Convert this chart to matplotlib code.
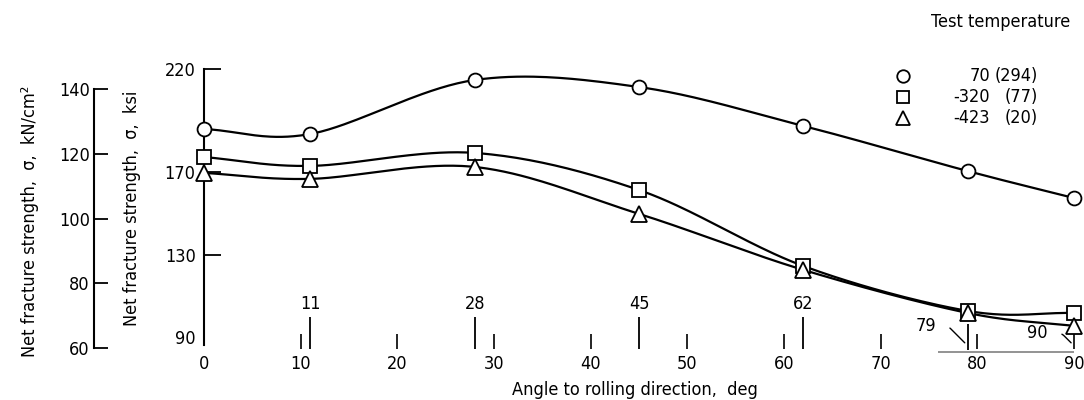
import numpy as np
import matplotlib
matplotlib.use("Agg")
import matplotlib.pyplot as plt

plt.rcParams['font.family'] = ['DejaVu Sans']
plt.rcParams['font.stretch'] = 'condensed'

# measured points, angle to rolling direction (deg) vs net fracture strength (ksi)
angles = [0, 11, 28, 45, 62, 79, 90]
ksi_70F = [191.0, 188.6, 214.8, 211.4, 192.5, 170.6, 157.5]
ksi_m320F = [177.4, 173.1, 179.4, 161.4, 124.5, 102.7, 101.7]
ksi_m423F = [169.7, 166.8, 172.6, 149.8, 122.6, 101.7, 95.4]

series_labels = [("70", "(294)"), ("-320", "(77)"), ("-423", "(20)")]
markers = ['o', 's', '^']

ksi_ticks = [220, 170, 130, 90]
kn_ticks = [140, 120, 100, 80, 60]
x_ticks = [0, 10, 20, 30, 40, 50, 60, 70, 80, 90]


def smooth_curve(x, y, n=40):
    # Catmull-Rom through the measured points
    x = np.asarray(x, float)
    y = np.asarray(y, float)
    px = np.concatenate([[2 * x[0] - x[1]], x, [2 * x[-1] - x[-2]]])
    py = np.concatenate([[2 * y[0] - y[1]], y, [2 * y[-1] - y[-2]]])
    xs, ys = [], []
    t = np.linspace(0, 1, n)
    for i in range(1, len(px) - 2):
        for p, out in ((px, xs), (py, ys)):
            p0, p1, p2, p3 = p[i - 1], p[i], p[i + 1], p[i + 2]
            out.extend(0.5 * ((2 * p1) + (-p0 + p2) * t
                              + (2 * p0 - 5 * p1 + 4 * p2 - p3) * t ** 2
                              + (-p0 + 3 * p1 - 3 * p2 + p3) * t ** 3))
    return np.array(xs), np.array(ys)


W, H = 1084, 400
fig = plt.figure(figsize=(W / 100, H / 100), dpi=100)
fs = 13

# main axes (ksi)
y_bot = 84.2
ax = fig.add_axes([204 / W, 1 - 349 / H, 870 / W, (349 - 69.3) / H])
ax.set_xlim(0, 90)
ax.set_ylim(y_bot, 220)
for s in ['top', 'right', 'bottom']:
    ax.spines[s].set_visible(False)
ax.spines['left'].set_bounds(86, 220)
ax.spines['left'].set_linewidth(1.5)
ax.set_yticks(ksi_ticks)
ax.set_yticklabels([str(v) for v in ksi_ticks])
ax.tick_params(axis='y', direction='in', length=12, width=1.3, pad=6, labelsize=fs)
ax.yaxis.get_major_ticks()[-1].tick1line.set_visible(False)
ax.set_xticks(x_ticks)
ax.set_xticklabels([str(v) for v in x_ticks])
ax.tick_params(axis='x', direction='in', length=11, width=1.2, pad=4, labelsize=fs)
ax.xaxis.get_major_ticks()[0].tick1line.set_visible(False)
ax.set_xlabel("Angle to rolling direction,  deg", fontsize=fs)
ax.xaxis.set_label_coords(0.495, -0.115)

for vals, m in zip([ksi_70F, ksi_m320F, ksi_m423F], markers):
    cx, cy = smooth_curve(angles, vals)
    ax.plot(cx, cy, color='black', lw=1.6, clip_on=False)
    ax.plot(angles, vals, m, ms=10 if m != '^' else 11, mfc='white', mec='black',
            mew=1.3, clip_on=False, zorder=5)

# test angle ticks
for a in angles[1:5]:
    ax.vlines(a, y_bot, y_bot + 15.5, color='black', lw=1.3)
    ax.text(a, y_bot + 22, str(a), ha='center', va='center', fontsize=fs)
ax.vlines(79, y_bot - 0.5, y_bot + 12, color='black', lw=1.3, clip_on=False)
ax.annotate("79", xy=(78.7, y_bot + 3), xytext=(-28, 12), textcoords='offset points',
            ha='center', va='center', fontsize=fs,
            arrowprops=dict(arrowstyle='-', lw=1, color='black', shrinkA=8, shrinkB=0,
                            connectionstyle='angle,angleA=0,angleB=-45,rad=4'))
ax.annotate("90", xy=(89.7, y_bot + 3), xytext=(-24, 7), textcoords='offset points',
            ha='center', va='center', fontsize=fs,
            arrowprops=dict(arrowstyle='-', lw=1, color='black', shrinkA=8, shrinkB=0,
                            connectionstyle='angle,angleA=0,angleB=-45,rad=4'))
ax.hlines(y_bot - 1.4, 75.9, 90, color='gray', lw=1.2, clip_on=False)

# secondary scale (kN/cm2)
ax2 = fig.add_axes([94 / W, 1 - 348 / H, 1 / W, (348 - 89) / H])
ax2.set_ylim(60, 140)
ax2.set_xticks([])
for s in ['top', 'right', 'bottom']:
    ax2.spines[s].set_visible(False)
ax2.spines['left'].set_linewidth(1.5)
ax2.set_yticks(kn_ticks)
ax2.set_yticklabels([str(v) for v in kn_ticks])
ax2.tick_params(axis='y', direction='in', length=10, width=1.3, pad=3, labelsize=fs)

fig.text(30 / W, 1 - 221 / H, "Net fracture strength,  σ,  kN/cm²", rotation=90,
         ha='center', va='center', fontsize=fs)
fig.text(132 / W, 1 - 208 / H, "Net fracture strength,  σ,  ksi", rotation=90,
         ha='center', va='center', fontsize=fs)

# legend
fig.text(1070 / W, 1 - 22 / H, "Test temperature", ha='right', va='center', fontsize=fs)
for i, ((t1, t2), m) in enumerate(zip(series_labels, markers)):
    yy = 1 - (76 + 21 * i) / H
    fig.add_artist(plt.Line2D([903 / W], [yy], marker=m, ms=9 if m != '^' else 10,
                              mfc='white', mec='black', mew=1.3, ls='none'))
    fig.text(990 / W, yy, t1, ha='right', va='center', fontsize=fs)
    fig.text(1038 / W, yy, t2, ha='right', va='center', fontsize=fs)

fig.savefig("out.png", dpi=100)
